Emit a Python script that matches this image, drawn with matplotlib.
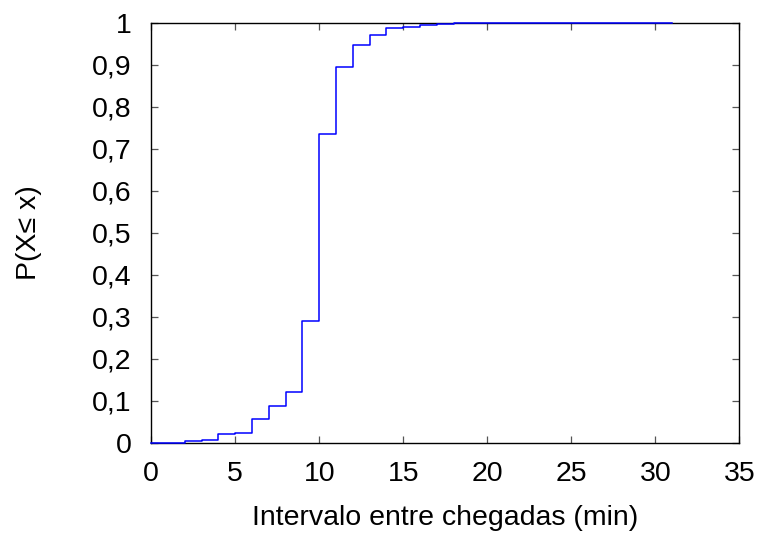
import matplotlib
matplotlib.use("Agg")
import matplotlib.pyplot as plt
from matplotlib.ticker import FuncFormatter

plt.rcParams['font.family'] = ['Liberation Sans', 'DejaVu Sans']

# Empirical CDF of inter-arrival times (minutes)
interval_min = list(range(0, 32))
cdf_values = [0.0, 0.0, 0.005, 0.007, 0.021, 0.024, 0.056, 0.088, 0.121,
              0.290, 0.736, 0.894, 0.948, 0.971, 0.987, 0.991, 0.994,
              0.997, 0.999, 1.0, 1.0, 1.0, 1.0, 1.0, 1.0, 1.0, 1.0,
              1.0, 1.0, 1.0, 1.0, 1.0]

x_ticks = [0, 5, 10, 15, 20, 25, 30, 35]
y_ticks = [0, 0.1, 0.2, 0.3, 0.4, 0.5, 0.6, 0.7, 0.8, 0.9, 1.0]

FS = 20.5

fig = plt.figure(figsize=(7.61, 5.36), dpi=100)
ax = fig.add_axes([0.1988, 0.174, 0.9715 - 0.1988, 0.9576 - 0.174])

ax.step(interval_min, cdf_values, where='post', color='#0000ff', lw=1.1,
        clip_on=False, zorder=3)

ax.set_xlim(0, 35)
ax.set_ylim(0, 1)
ax.set_xticks(x_ticks)
ax.set_yticks(y_ticks)


def comma_fmt(v, pos):
    s = ('%.1f' % v).rstrip('0').rstrip('.')
    return s.replace('.', ',')


ax.yaxis.set_major_formatter(FuncFormatter(comma_fmt))
ax.xaxis.set_major_formatter(FuncFormatter(lambda v, p: '%d' % v))

ax.tick_params(direction='in', length=5, width=0.9, labelsize=FS,
               top=True, right=True, color='#555555')
ax.tick_params(axis='x', pad=13)
ax.tick_params(axis='y', pad=14)
for sp in ax.spines.values():
    sp.set_linewidth(1.0)
    sp.set_color('black')

ax.set_xlabel('Intervalo entre chegadas (min)', fontsize=FS)
ax.set_ylabel('P(X≤ x)', fontsize=FS)
ax.xaxis.set_label_coords(0.5, -0.148)
ax.yaxis.set_label_coords(-0.186, 0.5)

fig.savefig('out.png', dpi=100)
